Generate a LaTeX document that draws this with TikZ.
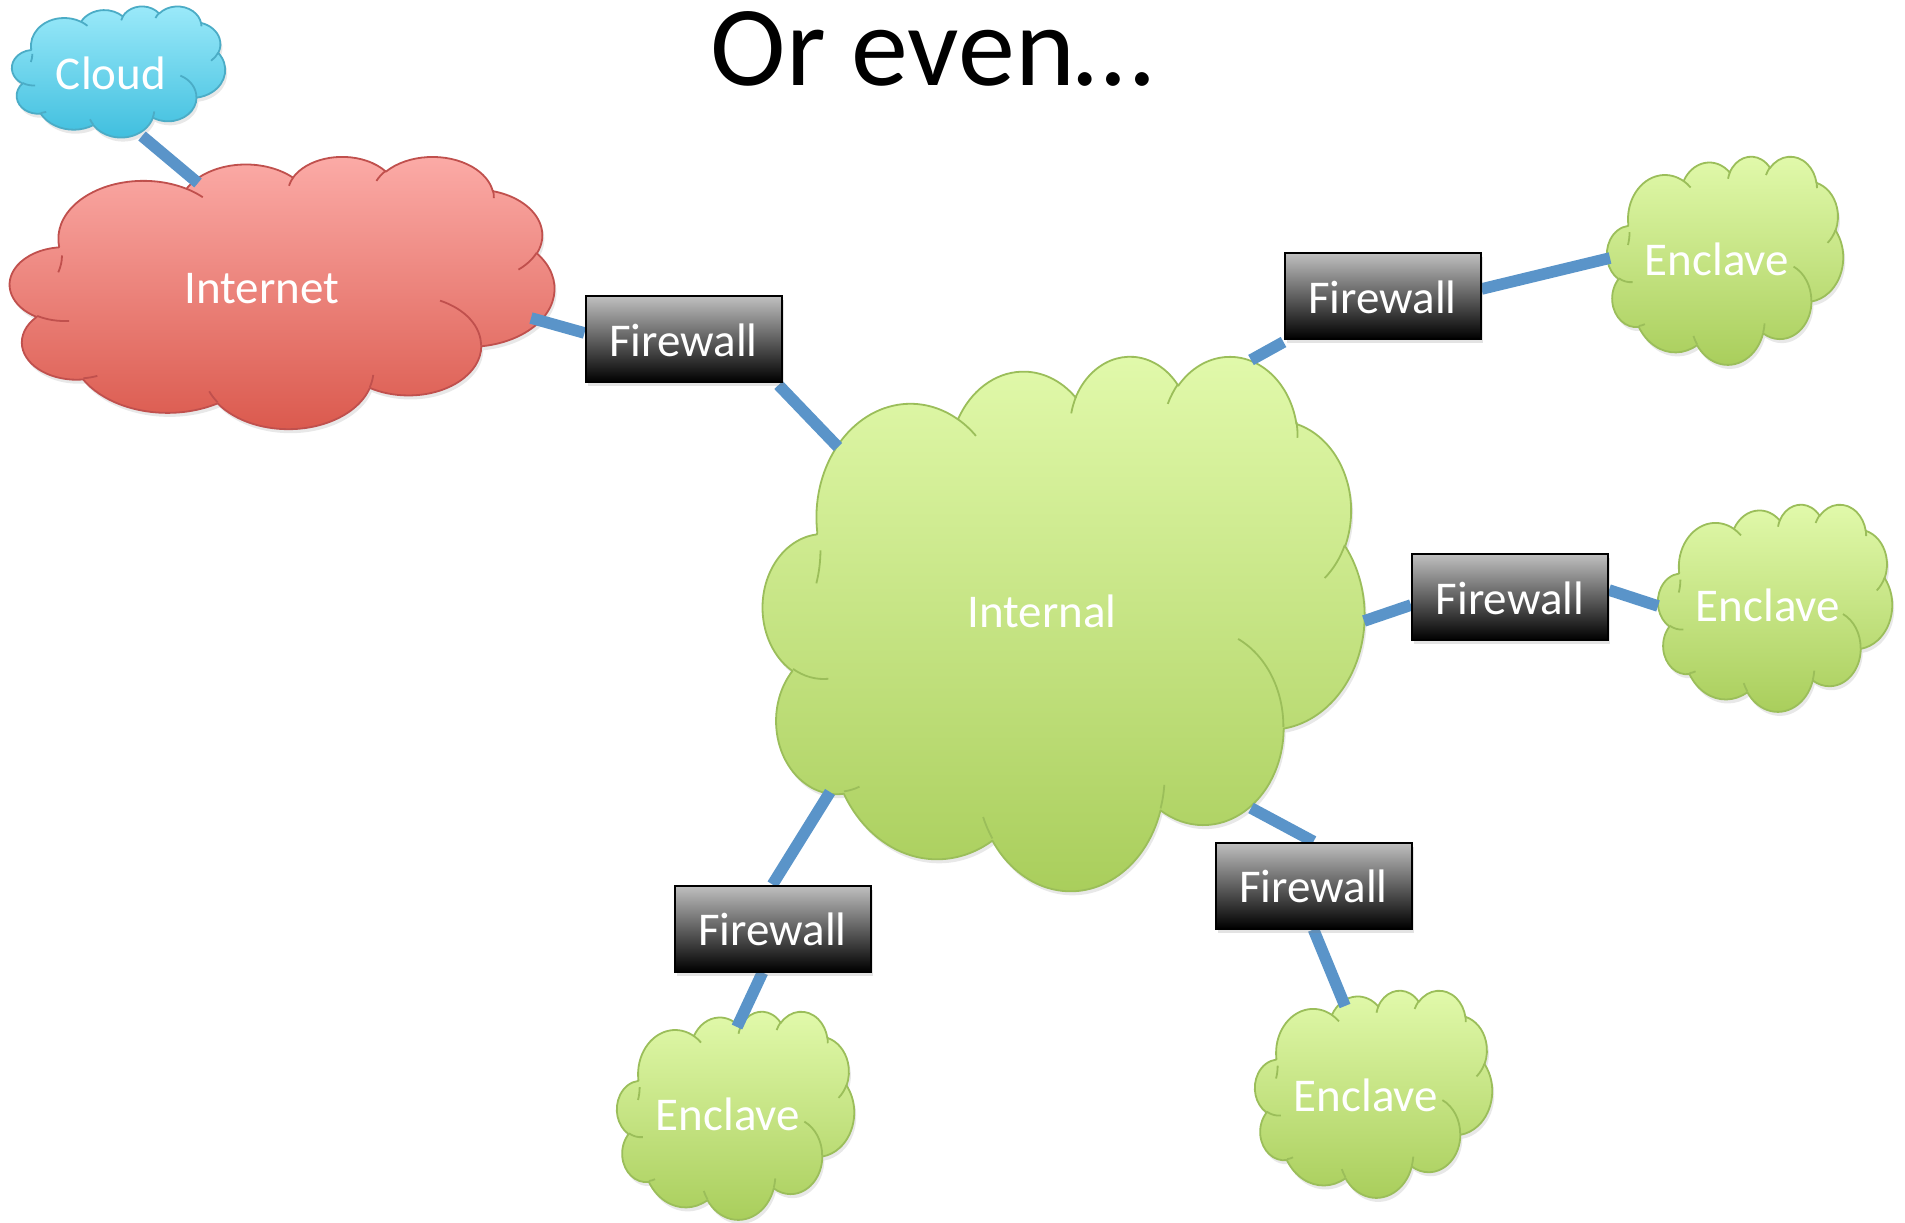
\documentclass[tikz,border=0pt]{standalone}
\usepackage{fontspec}
\setmainfont{Carlito}
\usetikzlibrary{shadows}
\definecolor{linkblue}{RGB}{90,148,201}
\definecolor{grtop}{RGB}{226,250,172}
\definecolor{grbot}{RGB}{168,205,90}
\definecolor{grline}{RGB}{155,190,90}
\definecolor{rdtop}{RGB}{252,172,168}
\definecolor{rdbot}{RGB}{218,88,76}
\definecolor{rdline}{RGB}{192,80,77}
\definecolor{bltop}{RGB}{156,234,250}
\definecolor{blbot}{RGB}{62,190,222}
\definecolor{blline}{RGB}{75,172,198}
\definecolor{fwtop}{RGB}{192,192,192}
\pgfdeclarelayer{bg}
\pgfdeclarelayer{links}
\pgfsetlayers{bg,links,main}
\newcommand\carc[4]{arc[x radius=#1, y radius=#2, start angle={vt(#3,#1,#2)}, delta angle={dd(#3,#4,#1,#2)}]}
% #1 x, #2 y (top-left, px), #3 w, #4 h, #5 top colour, #6 bottom colour, #7 line colour
\newcommand\pptcloud[7]{%
\begin{scope}[shift={(#1,#2)},x={(0.0115741*#3pt,0)},y={(0,-0.0115741*#4pt)}]
\path[top color=#5,bottom color=#6,draw=#7,line width=0.9pt,line join=round,
  drop shadow={opacity=0.18,shadow xshift=1pt,shadow yshift=-2pt}]
 (3.900,14.370)
 \carc{6.753}{9.190}{-190.4875}{123.7805}
 \carc{5.333}{7.267}{-144.1024}{89.9452}
 \carc{4.365}{5.945}{-145.8079}{99.7230}
 \carc{4.857}{6.595}{-130.9861}{117.2417}
 \carc{5.333}{7.273}{-78.7089}{109.0269}
 \carc{6.775}{9.220}{-46.2673}{130.2690}
 \carc{5.785}{7.867}{0.6250}{114.0333}
 \carc{6.752}{9.215}{22.4516}{115.1726}
 \carc{7.720}{10.543}{66.2426}{75.7110}
 \carc{4.360}{5.918}{-274.9421}{146.7356}
 \carc{4.345}{5.945}{-246.8285}{152.5189}
 -- cycle;
\draw[#7,line width=0.9pt]
 (4.693,26.177) \carc{4.345}{5.945}{86.7420}{26.4295}
 (6.928,34.899) \carc{4.360}{5.918}{73.6105}{11.4475}
 (16.478,39.090) \carc{6.752}{9.215}{137.6242}{14.0811}
 (28.827,34.751) \carc{6.752}{9.215}{6.4533}{15.9984}
 (34.129,22.954) \carc{5.785}{7.867}{-70.2924}{70.9174}
 (41.798,15.354) \carc{5.333}{7.273}{30.3180}{27.7515}
 (38.324,5.426) \carc{4.857}{6.595}{-13.7443}{14.8589}
 (29.078,3.952) \carc{4.857}{6.595}{-149.1815}{18.1954}
 (22.141,4.720) \carc{4.365}{5.945}{-163.4943}{17.6864}
 (14.000,5.192) \carc{6.753}{9.190}{-66.7070}{12.3194}
 (4.127,15.789) \carc{6.753}{9.190}{0.1630}{22.4526};
\end{scope}}
\tikzset{
  lbl/.style={text=white,inner sep=0pt,font=\fontsize{23.5}{28}\selectfont},
  fw/.style={draw=black,line width=1pt,top color=fwtop,bottom color=black,
    text=white,inner sep=0pt,minimum width=98pt,minimum height=43pt,
    text height=17pt,text depth=0pt,
    font=\fontsize{23.5}{28}\selectfont,
    drop shadow={opacity=0.22,shadow xshift=1pt,shadow yshift=-2pt}},
  link/.style={draw=linkblue,line width=5.8pt,
    drop shadow={opacity=0.12,shadow xshift=0.8pt,shadow yshift=-1.2pt}},
}
\begin{document}
\begin{tikzpicture}[x=0.5pt,y=-0.5pt,
  declare function={vt(\a,\w,\h)=atan2(\w*sin(\a),\h*cos(\a));
                    dd(\a,\s,\w,\h)=mod(vt(\a+\s,\w,\h)-vt(\a,\w,\h)+720,360);}]
\useasboundingbox (0,0) rectangle (1905,1222);

% clouds
\begin{pgfonlayer}{bg}
\fill[white] (0,0) rectangle (1905,1222);
\pptcloud{12}{6}{213}{131}{bltop}{blbot}{blline}
\pptcloud{10}{156}{544}{272}{rdtop}{rdbot}{rdline}
\pptcloud{763}{355}{601}{534}{grtop}{grbot}{grline}
\pptcloud{1607}{156}{236}{208}{grtop}{grbot}{grline}
\pptcloud{1658}{504}{234}{207}{grtop}{grbot}{grline}
\pptcloud{617}{1011}{237}{208}{grtop}{grbot}{grline}
\pptcloud{1255}{990}{237}{207}{grtop}{grbot}{grline}
\end{pgfonlayer}

% title
\node[inner sep=0pt,font=\fontsize{57}{68}\selectfont] (title) at (932,49) {Or even…};

% cloud labels
\node[lbl] (cloud) at (111,73) {Cloud};
\node[lbl] (internet) at (262,289) {Internet};
\node[lbl] (internal) at (1042,611) {Internal};
\node[lbl] (enc1) at (1717,259) {Enclave};
\node[lbl] (enc2) at (1768,605) {Enclave};
\node[lbl] (enc3) at (728,1114) {Enclave};
\node[lbl] (enc4) at (1366,1095) {Enclave};

% firewalls
\node[fw] (f1) at (683.5,339) {Firewall};
\node[fw] (f2) at (1382.5,296) {Firewall};
\node[fw] (f3) at (1510,597) {Firewall};
\node[fw] (f4) at (1313.5,885.5) {Firewall};
\node[fw] (f5) at (772.5,928.5) {Firewall};

% attachment points on cloud outlines
\coordinate (cl-s) at (142,136);
\coordinate (in-n) at (198,183);
\coordinate (in-e) at (531,318);
\coordinate (it-nw) at (838,447);
\coordinate (it-ne) at (1251,360);
\coordinate (it-e) at (1364,621);
\coordinate (it-se) at (1251,808);
\coordinate (it-sw) at (830,792);
\coordinate (e1-w) at (1610,258);
\coordinate (e2-w) at (1658,606);
\coordinate (e3-n) at (737,1027);
\coordinate (e4-n) at (1345,1006);

% connectors
\begin{pgfonlayer}{links}
\draw[link] (cl-s) -- (in-n);
\draw[link] (in-e) -- ([yshift=3pt]f1.west);
\draw[link] ([xshift=-2pt,yshift=-1pt]f1.south east) -- (it-nw);
\draw[link] ([yshift=-1pt]f2.south west) -- (it-ne);
\draw[link] ([yshift=3.5pt]f2.east) -- (e1-w);
\draw[link] (it-e) -- ([yshift=-4pt]f3.west);
\draw[link] ([yshift=3.5pt]f3.east) -- (e2-w);
\draw[link] (it-se) -- (f4.north);
\draw[link] (f4.south) -- (e4-n);
\draw[link] (it-sw) -- (f5.north);
\draw[link] ([xshift=-5pt]f5.south) -- (e3-n);
\end{pgfonlayer}
\end{tikzpicture}
\end{document}
